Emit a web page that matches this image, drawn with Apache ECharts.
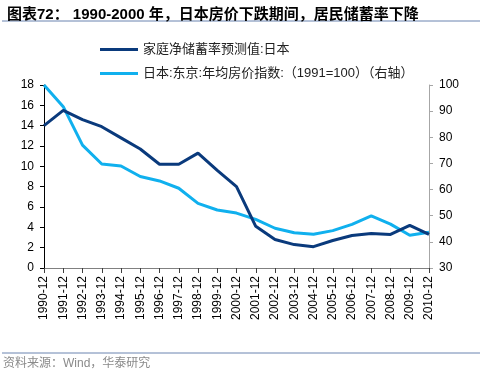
<!DOCTYPE html>
<html>
<head>
<meta charset="utf-8">
<script src="https://cdn.jsdelivr.net/npm/echarts@6/dist/echarts.min.js"></script>
<style>
  html, body { margin: 0; padding: 0; background: #fff; }
  #chart { width: 482px; height: 375px; }
</style>
</head>
<body>
<div id="chart"></div>
<script>
// 数据
const categories = ['1990-12', '1991-12', '1992-12', '1993-12', '1994-12', '1995-12', '1996-12',
  '1997-12', '1998-12', '1999-12', '2000-12', '2001-12', '2002-12', '2003-12', '2004-12',
  '2005-12', '2006-12', '2007-12', '2008-12', '2009-12', '2010-12']
const savingRate = [14.0, 15.5, 14.6, 13.9, 12.8, 11.7, 10.2, 10.2, 11.3, 9.6, 8.0,
  4.1, 2.8, 2.3, 2.1, 2.7, 3.2, 3.4, 3.3, 4.2, 3.3]
const housePrice = [100, 91.7, 77.0, 69.8, 69.0, 65.0, 63.3, 60.5, 54.7, 52.2, 51.0,
  48.6, 45.2, 43.5, 42.9, 44.3, 46.7, 49.9, 46.8, 42.5, 43.7]
const seriesNames = ['家庭净储蓄率预测值:日本', '日本:东京:年均房价指数:（1991=100）（右轴）']

const font = 'Liberation Sans, Noto Sans CJK SC, sans-serif'
const myChart = echarts.init(document.getElementById('chart'))
myChart.setOption({
  animation: false,
  textStyle: { fontFamily: font },
  title: {
    text: '图表72： 1990-2000 年，日本房价下跌期间，居民储蓄率下降',
    left: 2,
    top: 2,
    textStyle: { fontSize: 15, fontWeight: 'bold', color: '#000', fontFamily: font }
  },
  graphic: [
    { type: 'line', shape: { x1: 2, y1: 21, x2: 480, y2: 21 }, style: { stroke: '#6b84b0', lineWidth: 1 } },
    { type: 'line', shape: { x1: 2, y1: 353, x2: 480, y2: 353 }, style: { stroke: '#6b84b0', lineWidth: 1 } },
    { type: 'text', left: 3, top: 358, style: { text: '资料来源：Wind，华泰研究', fill: '#8a8a8a', font: '12px ' + font } }
  ],
  legend: {
    orient: 'vertical',
    left: 95,
    top: 38,
    itemWidth: 38,
    itemHeight: 3,
    itemGap: 11,
    data: seriesNames.map(n => ({ name: n, icon: 'rect' })),
    textStyle: { fontSize: 13, color: '#222', fontFamily: font }
  },
  grid: { left: 44, right: 53, top: 85, bottom: 107 },
  xAxis: {
    type: 'category',
    boundaryGap: false,
    data: categories,
    axisLine: { lineStyle: { color: '#808080' } },
    axisTick: { alignWithLabel: true, length: 5, lineStyle: { color: '#404040' } },
    axisLabel: { rotate: 90, fontSize: 12, color: '#000', margin: 8, interval: 0 }
  },
  yAxis: [
    {
      type: 'value',
      min: 0,
      max: 18,
      interval: 2,
      splitLine: { show: false },
      axisLine: { show: true, lineStyle: { color: '#000' } },
      axisTick: { show: true, length: 4, lineStyle: { color: '#000' } },
      axisLabel: { fontSize: 12, color: '#000', margin: 10 }
    },
    {
      type: 'value',
      min: 30,
      max: 100,
      interval: 10,
      position: 'right',
      splitLine: { show: false },
      axisLine: { show: true, lineStyle: { color: '#a6a6a6' } },
      axisTick: { show: true, length: 4, lineStyle: { color: '#a6a6a6' } },
      axisLabel: { fontSize: 12, color: '#000', margin: 10 }
    }
  ],
  series: [
    {
      name: seriesNames[0],
      type: 'line',
      symbol: 'none',
      yAxisIndex: 0,
      data: savingRate,
      lineStyle: { width: 3, color: '#0a3a7c' },
      itemStyle: { color: '#0a3a7c' },
      z: 3
    },
    {
      name: seriesNames[1],
      type: 'line',
      symbol: 'none',
      yAxisIndex: 1,
      data: housePrice,
      lineStyle: { width: 3, color: '#10b0ee' },
      itemStyle: { color: '#10b0ee' },
      z: 2
    }
  ]
})
</script>
</body>
</html>
